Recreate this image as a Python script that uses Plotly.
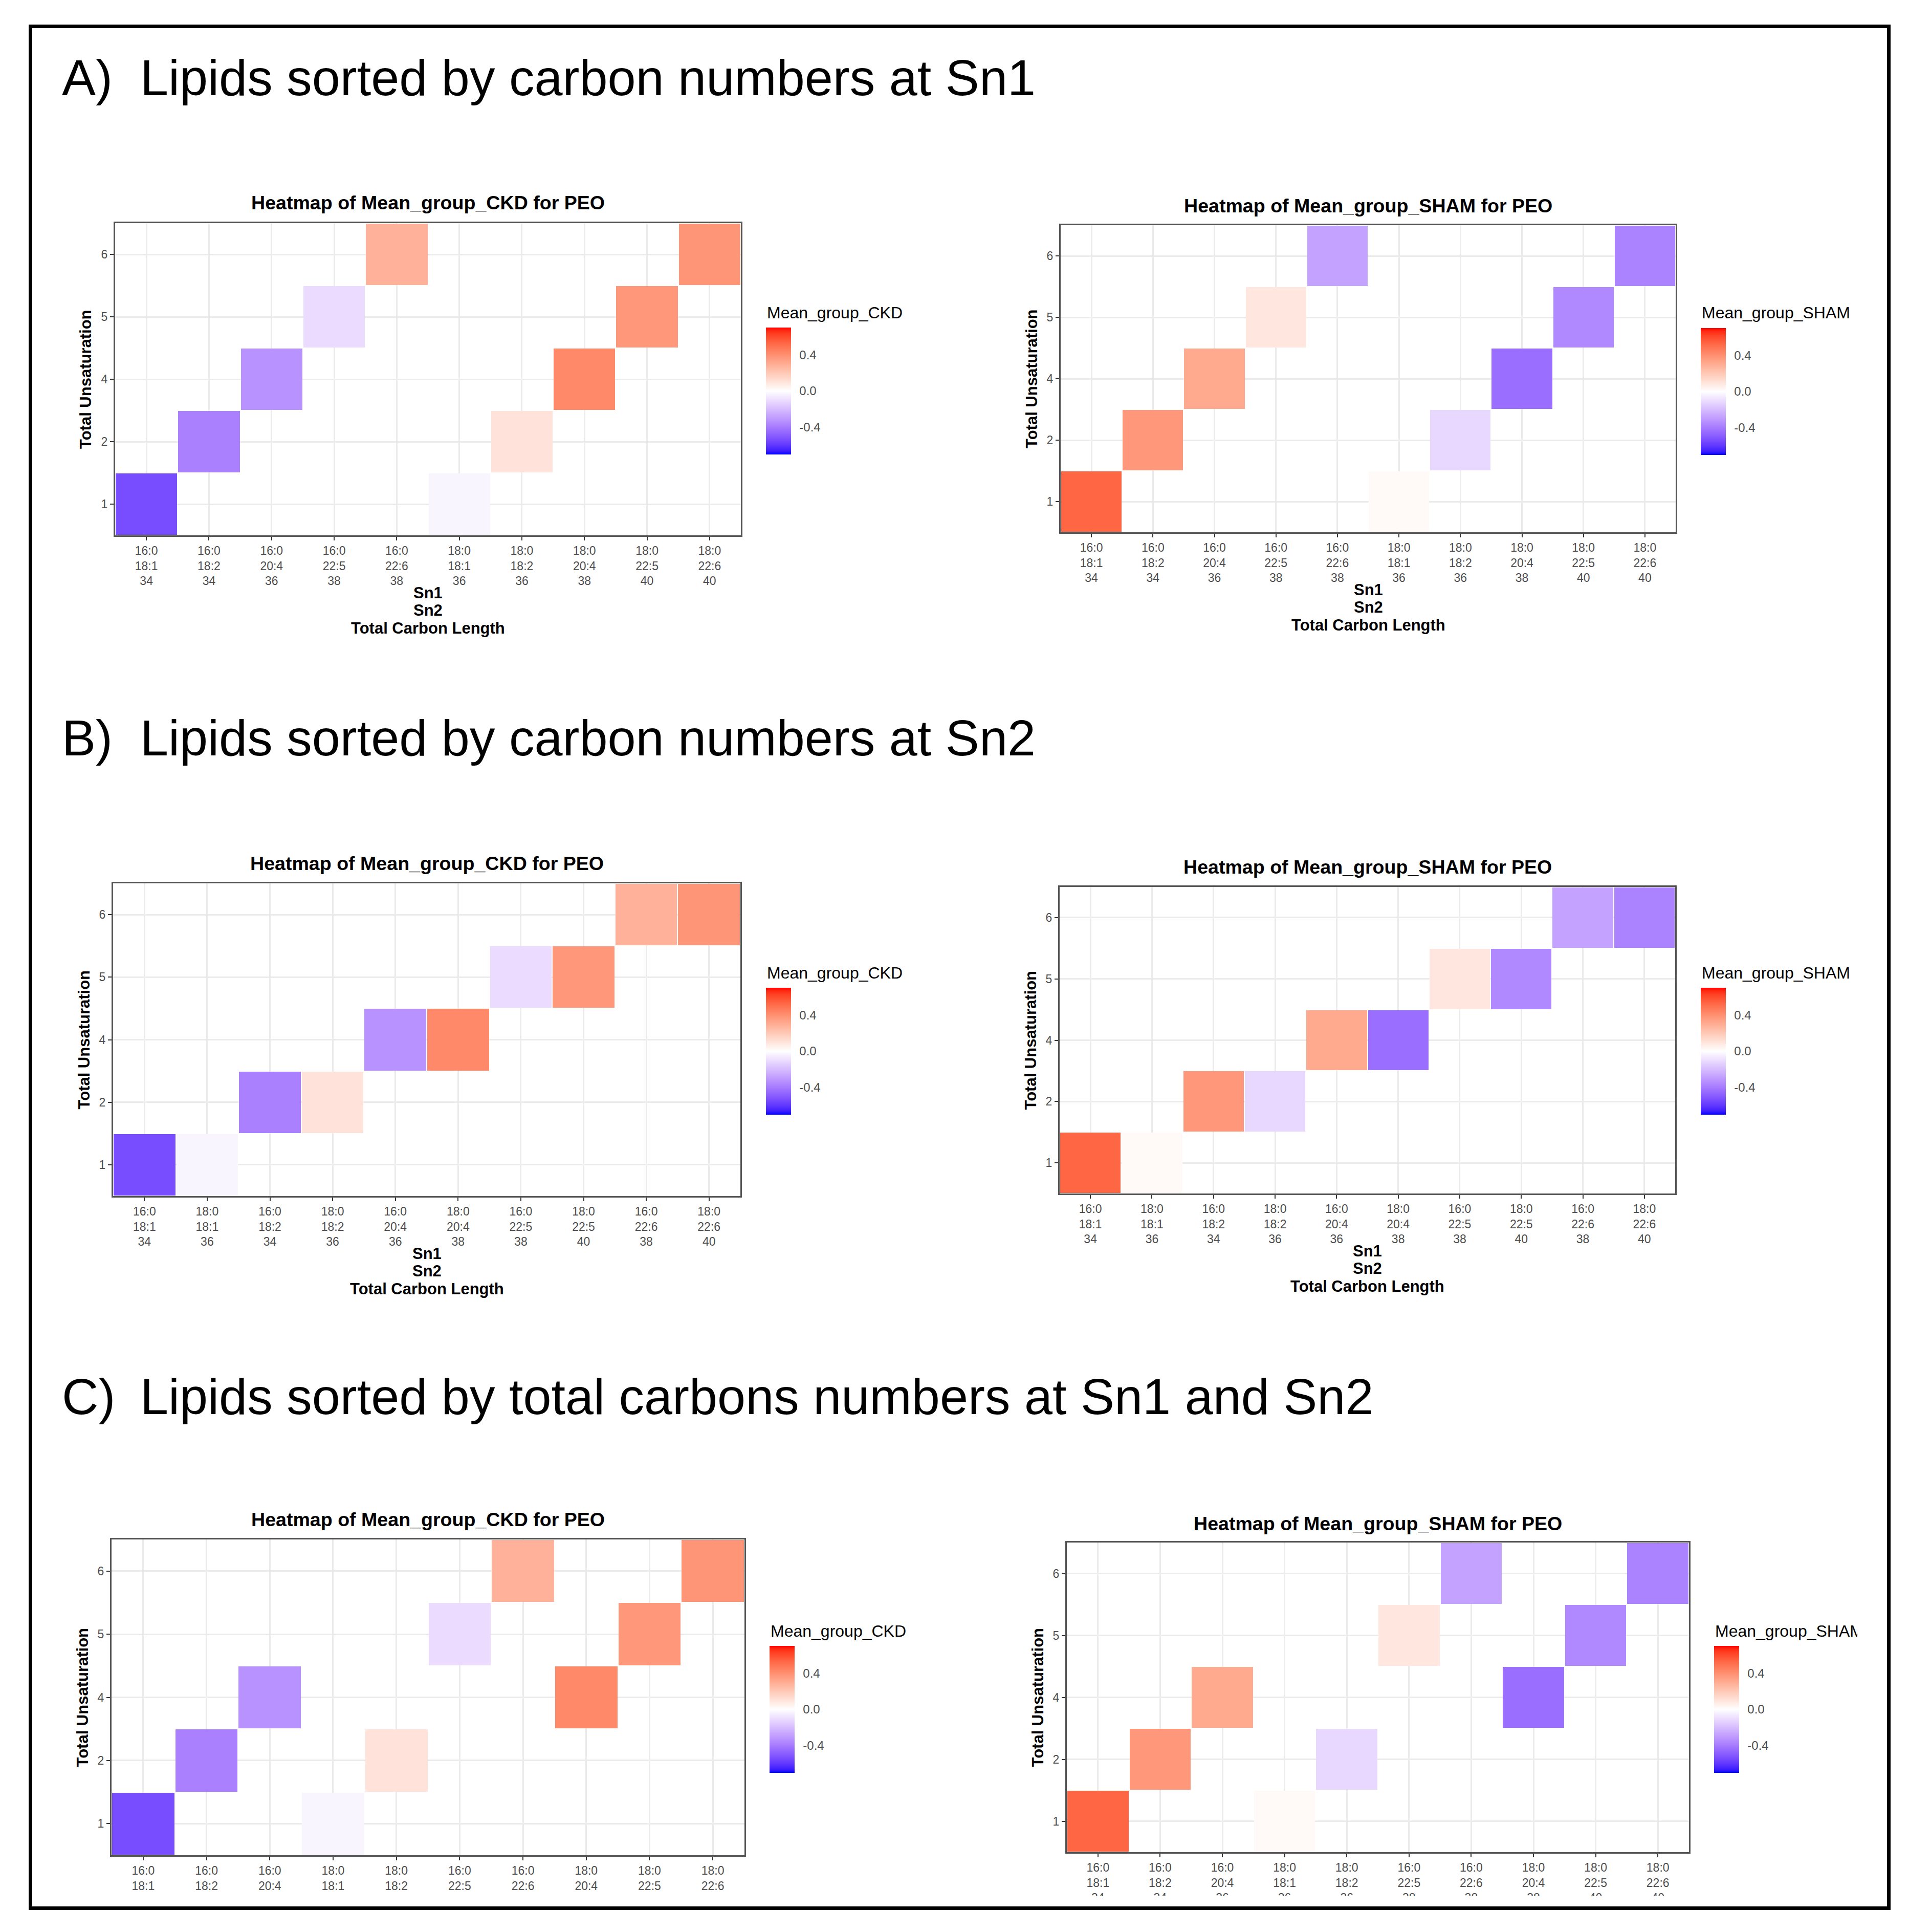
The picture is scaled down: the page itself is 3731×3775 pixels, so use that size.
import plotly.graph_objects as go

W, H = 3731, 3775
FONT = "Liberation Sans, Arial, Helvetica, sans-serif"

# ---------------- data ----------------
sn1 = ["16:0", "16:0", "16:0", "16:0", "16:0", "18:0", "18:0", "18:0", "18:0", "18:0"]
sn2 = ["18:1", "18:2", "20:4", "22:5", "22:6", "18:1", "18:2", "20:4", "22:5", "22:6"]
total_carbon = [34, 34, 36, 38, 38, 36, 36, 38, 40, 40]
unsaturation = [1, 2, 4, 5, 6, 1, 2, 4, 5, 6]
mean_ckd = [-0.54, -0.385, -0.33, -0.105, 0.28, -0.03, 0.10, 0.42, 0.37, 0.38]
mean_sham = [0.53, 0.37, 0.31, 0.09, -0.28, 0.02, -0.12, -0.44, -0.36, -0.38]
y_levels = ["1", "2", "4", "5", "6"]
cb_ticks = [-0.4, 0.0, 0.4]
cb_ticktext = ["-0.4", "0.0", "0.4"]
z_limit = 0.7

section_titles = [
    ("A)", "Lipids sorted by carbon numbers at Sn1"),
    ("B)", "Lipids sorted by carbon numbers at Sn2"),
    ("C)", "Lipids sorted by total carbons numbers at Sn1 and Sn2"),
]

# ---------------- colour scale: white -> red / blue interpolated in Lab (like ggplot gradient2) -------------
def _lin(c):
    c = c / 255.0
    return c / 12.92 if c <= 0.04045 else ((c + 0.055) / 1.055) ** 2.4

def _gam(c):
    c = max(0.0, min(1.0, c))
    v = 12.92 * c if c <= 0.0031308 else 1.055 * c ** (1 / 2.4) - 0.055
    return int(round(v * 255))

def rgb_to_lab(rgb):
    r, g, b = (_lin(v) for v in rgb)
    X = 0.4124 * r + 0.3576 * g + 0.1805 * b
    Y = 0.2126 * r + 0.7152 * g + 0.0722 * b
    Z = 0.0193 * r + 0.1192 * g + 0.9505 * b
    xn, yn, zn = 0.95047, 1.0, 1.08883
    def f(t):
        return t ** (1 / 3) if t > 216 / 24389 else (24389 / 27 * t + 16) / 116
    fx, fy, fz = f(X / xn), f(Y / yn), f(Z / zn)
    return (116 * fy - 16, 500 * (fx - fy), 200 * (fy - fz))

def lab_to_rgb(lab):
    L, a, b = lab
    fy = (L + 16) / 116
    fx = fy + a / 500
    fz = fy - b / 200
    def finv(t):
        return t ** 3 if t ** 3 > 216 / 24389 else (116 * t - 16) / (24389 / 27)
    X, Y, Z = 0.95047 * finv(fx), 1.0 * finv(fy), 1.08883 * finv(fz)
    r = 3.2406 * X - 1.5372 * Y - 0.4986 * Z
    g = -0.9689 * X + 1.8758 * Y + 0.0415 * Z
    bb = 0.0557 * X - 0.2040 * Y + 1.0570 * Z
    return "rgb(%d,%d,%d)" % (_gam(r), _gam(g), _gam(bb))

LOW, MID, HIGH = rgb_to_lab((0, 0, 255)), rgb_to_lab((255, 255, 255)), rgb_to_lab((255, 0, 0))
colorscale = []
N = 40
for i in range(N + 1):
    p = i / N
    if p <= 0.5:
        t = (0.5 - p) / 0.5
        end = LOW
    else:
        t = (p - 0.5) / 0.5
        end = HIGH
    lab = tuple(MID[k] + (end[k] - MID[k]) * t for k in range(3))
    colorscale.append([p, lab_to_rgb(lab)])

# ---------------- panel geometry (pixels) ----------------
panels = [
    dict(sort="A", vals=mean_ckd, grp="CKD", x0=225, x1=1448, y0=436, y1=1046, cbx=1497, cbt=640, ty=396, lty=611, xt=True),
    dict(sort="A", vals=mean_sham, grp="SHAM", x0=2073, x1=3275, y0=440, y1=1040, cbx=3324, cbt=641, ty=402, lty=611, xt=True),
    dict(sort="B", vals=mean_ckd, grp="CKD", x0=221, x1=1447, y0=1726, y1=2337, cbx=1497, cbt=1930, ty=1687, lty=1901, xt=True),
    dict(sort="B", vals=mean_sham, grp="SHAM", x0=2071, x1=3274, y0=1733, y1=2332, cbx=3324, cbt=1930, ty=1694, lty=1901, xt=True),
    dict(sort="C", vals=mean_ckd, grp="CKD", x0=218, x1=1455, y0=3008, y1=3625, cbx=1504, cbt=3216, ty=2969, lty=3187, xt=False),
    dict(sort="C", vals=mean_sham, grp="SHAM", x0=2085, x1=3301, y0=3014, y1=3619, cbx=3350, cbt=3216, ty=2977, lty=3187, xt=False),
]

def order(kind):
    idx = list(range(len(sn1)))
    if kind == "A":
        return sorted(idx, key=lambda i: (sn1[i], sn2[i]))
    if kind == "B":
        return sorted(idx, key=lambda i: (sn2[i], sn1[i]))
    return sorted(idx, key=lambda i: (total_carbon[i], sn1[i], sn2[i]))

fig = go.Figure()
annotations = []
layout = {}

def px(x):
    return x / W

def py(y):
    return 1 - y / H

for k, p in enumerate(panels, start=1):
    idx = order(p["sort"])
    labels = ["%s<br>%s<br>%d" % (sn1[i], sn2[i], total_carbon[i]) for i in idx]
    z = []
    for lev in y_levels:
        row = []
        for i in idx:
            row.append(p["vals"][i] if str(unsaturation[i]) == lev else None)
        z.append(row)
    xa = "x" if k == 1 else "x%d" % k
    ya = "y" if k == 1 else "y%d" % k
    fig.add_trace(go.Heatmap(
        x=labels, y=y_levels, z=z, xaxis=xa, yaxis=ya,
        zmin=-z_limit, zmax=z_limit, colorscale=colorscale,
        xgap=2, ygap=2, hoverongaps=False,
        colorbar=dict(
            x=px(p["cbx"]), xanchor="left", y=py(p["cbt"]), yanchor="top",
            len=248, lenmode="pixels", thickness=49, thicknessmode="pixels",
            xpad=0, ypad=0, outlinewidth=0,
            tickvals=cb_ticks, ticktext=cb_ticktext,
            ticks="outside", ticklen=12, tickwidth=1, tickcolor="rgba(255,255,255,0)",
            tickfont=dict(family=FONT, size=24, color="#4D4D4D"),
        ),
    ))
    axis_common = dict(
        showline=True, mirror=True, linecolor="#555555", linewidth=3,
        ticks="outside", ticklen=7, tickwidth=2, tickcolor="#333333",
        showgrid=True, gridcolor="#EBEBEB", gridwidth=3, zeroline=False,
        tickfont=dict(family=FONT, size=23, color="#4D4D4D"),
        type="category", fixedrange=True,
    )
    layout["xaxis" if k == 1 else "xaxis%d" % k] = dict(
        axis_common, domain=[px(p["x0"]), px(p["x1"])], anchor=ya,
        categoryorder="array", categoryarray=labels, range=[-0.5, len(labels) - 0.5],
    )
    layout["yaxis" if k == 1 else "yaxis%d" % k] = dict(
        axis_common, domain=[py(p["y1"]), py(p["y0"])], anchor=xa,
        categoryorder="array", categoryarray=y_levels, range=[-0.5, len(y_levels) - 0.5],
    )
    cx = (p["x0"] + p["x1"]) / 2
    annotations.append(dict(
        x=px(cx), y=py(p["ty"]), xref="paper", yref="paper", xanchor="center", yanchor="middle",
        text="<b>Heatmap of Mean_group_%s for PEO</b>" % p["grp"], showarrow=False,
        font=dict(family=FONT, size=37.6, color="black"),
    ))
    annotations.append(dict(
        x=px(p["x0"] - 57), y=py((p["y0"] + p["y1"]) / 2), xref="paper", yref="paper",
        xanchor="center", yanchor="middle", textangle=-90,
        text="<b>Total Unsaturation</b>", showarrow=False,
        font=dict(family=FONT, size=31, color="black"),
    ))
    if p["xt"]:
        for off, line in zip([112, 146, 181], ["Sn1", "Sn2", "Total Carbon Length"]):
            annotations.append(dict(
                x=px(cx), y=py(p["y1"] + off), xref="paper", yref="paper",
                xanchor="center", yanchor="middle", text="<b>%s</b>" % line, showarrow=False,
                font=dict(family=FONT, size=31, color="black"),
            ))
    lt = dict(
        x=px(p["cbx"]), y=py(p["lty"]), xref="paper", yref="paper",
        xanchor="left", yanchor="middle", align="left",
        text="Mean_group_%s" % p["grp"], showarrow=False,
        font=dict(family=FONT, size=32, color="black"),
    )
    if k == 6:
        lt["width"] = 3628 - p["cbx"]
    annotations.append(lt)

for (lab, txt), yc in zip(section_titles, [152, 1441, 2728]):
    annotations.append(dict(x=px(119), y=py(yc), xref="paper", yref="paper", xanchor="left",
                            yanchor="middle", text=lab, showarrow=False,
                            font=dict(family=FONT, size=99, color="black")))
    annotations.append(dict(x=px(272), y=py(yc), xref="paper", yref="paper", xanchor="left",
                            yanchor="middle", text=txt, showarrow=False,
                            font=dict(family=FONT, size=99, color="black")))

shapes = [
    # crop of the bottom images
    dict(type="rect", xref="paper", yref="paper", x0=px(63), x1=px(1870), y0=py(3725), y1=py(3697),
         fillcolor="white", line=dict(width=0), layer="above"),
    dict(type="rect", xref="paper", yref="paper", x0=px(1870), x1=px(3688), y0=py(3725), y1=py(3705),
         fillcolor="white", line=dict(width=0), layer="above"),
    # outer frame
    dict(type="rect", xref="paper", yref="paper", x0=px(59.5), x1=px(3691.5), y0=py(3728.5), y1=py(51.5),
         line=dict(color="black", width=7), fillcolor="rgba(0,0,0,0)", layer="above"),
]

fig.update_layout(
    width=W, height=H, margin=dict(l=0, r=0, t=0, b=0),
    paper_bgcolor="white", plot_bgcolor="white",
    annotations=annotations, shapes=shapes, showlegend=False,
    font=dict(family=FONT),
    **layout,
)

fig.write_html("out.html")
